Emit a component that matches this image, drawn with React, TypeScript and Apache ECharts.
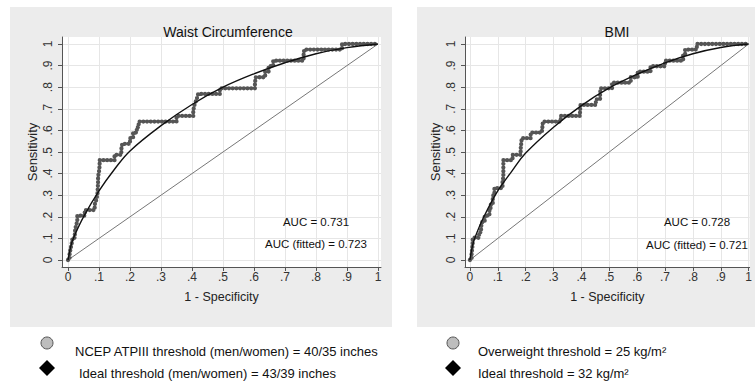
import React, { useEffect, useRef } from "react";
import * as echarts from "echarts";

// ---- Data ----
const tickValues = [0, 0.1, 0.2, 0.3, 0.4, 0.5, 0.6, 0.7, 0.8, 0.9, 1];
const tickLabels = ["0", ".1", ".2", ".3", ".4", ".5", ".6", ".7", ".8", ".9", "1"];

const panelTitles = ["Waist Circumference", "BMI"];
const aucTexts = [
  ["AUC = 0.731", "AUC (fitted) = 0.723"],
  ["AUC = 0.728", "AUC (fitted) = 0.721"],
];
const legendTexts = [
  ["NCEP ATPIII threshold (men/women) = 40/35 inches", "Ideal threshold (men/women) = 43/39 inches"],
  ["Overweight threshold = 25 kg/m²", "Ideal threshold = 32 kg/m²"],
];

// Empirical ROC (step path vertices), waist circumference
const waistEmpX = [0, 0.005, 0.005, 0.008, 0.012, 0.015, 0.022, 0.022, 0.025, 0.03, 0.03, 0.054, 0.054, 0.086, 0.086, 0.092, 0.095, 0.097, 0.097, 0.1, 0.102, 0.102, 0.15, 0.15, 0.172, 0.172, 0.175, 0.2, 0.2, 0.21, 0.21, 0.222, 0.222, 0.228, 0.228, 0.35, 0.35, 0.404, 0.404, 0.408, 0.415, 0.42, 0.49, 0.49, 0.603, 0.603, 0.606, 0.636, 0.636, 0.647, 0.647, 0.662, 0.662, 0.76, 0.76, 0.762, 0.884, 0.884, 1];
const waistEmpY = [0, 0, 0.026, 0.051, 0.077, 0.103, 0.103, 0.128, 0.154, 0.179, 0.205, 0.205, 0.231, 0.231, 0.256, 0.282, 0.308, 0.359, 0.385, 0.41, 0.436, 0.462, 0.462, 0.487, 0.487, 0.513, 0.538, 0.538, 0.564, 0.564, 0.59, 0.59, 0.615, 0.615, 0.641, 0.641, 0.667, 0.667, 0.692, 0.718, 0.744, 0.769, 0.769, 0.795, 0.795, 0.821, 0.846, 0.846, 0.872, 0.872, 0.897, 0.897, 0.923, 0.923, 0.949, 0.974, 0.974, 1, 1];

// Fitted ROC, waist circumference
const waistFitX = [0, 0.01, 0.02, 0.05, 0.1, 0.15, 0.2, 0.3, 0.4, 0.5, 0.6, 0.7, 0.8, 0.9, 1];
const waistFitY = [0, 0.07, 0.11, 0.2, 0.32, 0.42, 0.505, 0.622, 0.72, 0.8, 0.862, 0.913, 0.955, 0.983, 1];

// Empirical ROC, BMI
const bmiEmpX = [0, 0.006, 0.006, 0.008, 0.01, 0.01, 0.033, 0.033, 0.04, 0.04, 0.045, 0.053, 0.053, 0.07, 0.07, 0.074, 0.074, 0.082, 0.082, 0.085, 0.088, 0.088, 0.117, 0.117, 0.12, 0.12, 0.153, 0.153, 0.182, 0.182, 0.184, 0.186, 0.218, 0.218, 0.258, 0.26, 0.262, 0.326, 0.326, 0.395, 0.395, 0.397, 0.452, 0.452, 0.467, 0.467, 0.469, 0.51, 0.51, 0.577, 0.577, 0.602, 0.602, 0.648, 0.648, 0.7, 0.7, 0.765, 0.765, 0.772, 0.772, 0.814, 0.814, 1];
const bmiEmpY = [0, 0, 0.026, 0.051, 0.077, 0.103, 0.103, 0.128, 0.128, 0.154, 0.179, 0.179, 0.205, 0.205, 0.231, 0.231, 0.256, 0.256, 0.282, 0.308, 0.308, 0.333, 0.333, 0.359, 0.385, 0.462, 0.462, 0.487, 0.487, 0.513, 0.538, 0.564, 0.564, 0.59, 0.59, 0.615, 0.641, 0.641, 0.667, 0.667, 0.692, 0.718, 0.718, 0.744, 0.744, 0.769, 0.795, 0.795, 0.821, 0.821, 0.846, 0.846, 0.872, 0.872, 0.897, 0.897, 0.923, 0.923, 0.949, 0.949, 0.974, 0.974, 1, 1];

// Fitted ROC, BMI
const bmiFitX = [0, 0.01, 0.02, 0.05, 0.1, 0.15, 0.2, 0.3, 0.4, 0.5, 0.6, 0.7, 0.8, 0.9, 1];
const bmiFitY = [0, 0.07, 0.11, 0.2, 0.32, 0.41, 0.495, 0.615, 0.715, 0.797, 0.86, 0.913, 0.955, 0.984, 1];

// Chance diagonal
const diagX = [0, 1];
const diagY = [0, 1];

const FONT = "'Liberation Sans', Arial, sans-serif";
const zip = (xs: number[], ys: number[]) => xs.map((x, i) => [x, ys[i]]);
const fmt = (v: number) => {
  const i = tickValues.findIndex((t) => Math.abs(t - v) < 1e-9);
  return i >= 0 ? tickLabels[i] : "";
};

export default function App() {
  const ref = useRef<HTMLDivElement>(null);
  useEffect(() => {
    if (!ref.current) return;
    const chart = echarts.init(ref.current, null, { renderer: "svg" });

    const grids = [
      { left: 62, top: 37, width: 319, height: 230 },
      { left: 465, top: 37, width: 290, height: 230 },
    ];
    const xRanges = [
      [-0.0194, 1.0097],
      [-0.0176, 1.0035],
    ];
    const yRange = [-0.0324, 1.0324];

    const mkX = (i: number) => ({
      type: "value",
      gridIndex: i,
      min: xRanges[i][0],
      max: xRanges[i][1],
      name: "1 - Specificity",
      nameLocation: "middle",
      nameGap: 23,
      nameTextStyle: { fontFamily: FONT, fontSize: 12.5, color: "#222" },
      axisLine: { show: true, onZero: false, lineStyle: { color: "#555", width: 1 } },
      axisTick: { show: true, length: 4, customValues: tickValues, lineStyle: { color: "#555" } },
      axisLabel: {
        customValues: tickValues,
        formatter: fmt,
        margin: 4,
        fontFamily: FONT,
        fontSize: 12,
        color: "#333",
      },
      splitLine: { show: true, customValues: tickValues, lineStyle: { color: "#e6e6e6", width: 1 } },
    });
    const mkY = (i: number) => ({
      type: "value",
      gridIndex: i,
      min: yRange[0],
      max: yRange[1],
      name: "Sensitivity",
      nameLocation: "middle",
      nameGap: 23,
      nameTextStyle: { fontFamily: FONT, fontSize: 13, color: "#222" },
      axisLine: { show: true, onZero: false, lineStyle: { color: "#555", width: 1 } },
      axisTick: { show: true, length: 4, customValues: tickValues, lineStyle: { color: "#555" } },
      axisLabel: {
        customValues: tickValues,
        formatter: fmt,
        rotate: 90,
        margin: 8,
        fontFamily: FONT,
        fontSize: 12,
        color: "#333",
      },
      splitLine: { show: true, customValues: tickValues, lineStyle: { color: "#e6e6e6", width: 1 } },
    });

    const empStyle = {
      color: "#555555",
      width: 4.3,
      type: [0, 3.7],
      cap: "round",
    };

    const mkSeries = (i: number, ex: number[], ey: number[], fx: number[], fy: number[]) => [
      {
        type: "line",
        xAxisIndex: i,
        yAxisIndex: i,
        data: zip(diagX, diagY),
        showSymbol: false,
        lineStyle: { color: "#777", width: 1 },
        silent: true,
        z: 2,
      },
      {
        type: "line",
        xAxisIndex: i,
        yAxisIndex: i,
        data: zip(ex, ey),
        showSymbol: false,
        lineStyle: empStyle,
        silent: true,
        z: 3,
      },
      {
        type: "line",
        xAxisIndex: i,
        yAxisIndex: i,
        data: zip(fx, fy),
        smooth: 0.4,
        showSymbol: false,
        lineStyle: { color: "#111", width: 1.4 },
        silent: true,
        z: 4,
      },
    ];

    const legendCols = [
      { sx: 47, tx: 75, tx2: 79 },
      { sx: 453, tx: 478, tx2: 478 },
    ];
    const legendGraphics: any[] = [];
    legendCols.forEach((c, i) => {
      legendGraphics.push({
        type: "circle",
        shape: { cx: c.sx, cy: 343, r: 6 },
        style: { fill: "#bdbdbd", stroke: "#555", lineWidth: 1 },
      });
      legendGraphics.push({
        type: "polygon",
        shape: { points: [[c.sx, 360], [c.sx + 8, 368], [c.sx, 376], [c.sx - 8, 368]] },
        style: { fill: "#000" },
      });
      legendGraphics.push({
        type: "text",
        x: c.tx,
        y: 351,
        style: { text: legendTexts[i][0], fontFamily: FONT, fontSize: 13, fill: "#111", verticalAlign: "middle" },
      });
      legendGraphics.push({
        type: "text",
        x: c.tx2,
        y: 373,
        style: { text: legendTexts[i][1], fontFamily: FONT, fontSize: 13, fill: "#111", verticalAlign: "middle" },
      });
    });

    const aucPos = [
      { x: 316, y1: 222, y2: 244 },
      { x: 697, y1: 222, y2: 245 },
    ];
    const aucGraphics: any[] = [];
    aucPos.forEach((p, i) => {
      aucGraphics.push({
        type: "text",
        x: p.x,
        y: p.y1,
        z: 10,
        style: { text: aucTexts[i][0], fontFamily: FONT, fontSize: 11.5, fill: "#111", align: "center", verticalAlign: "middle" },
      });
      aucGraphics.push({
        type: "text",
        x: p.x,
        y: p.y2,
        z: 10,
        style: { text: aucTexts[i][1], fontFamily: FONT, fontSize: 11.5, fill: "#111", align: "center", verticalAlign: "middle" },
      });
    });

    chart.setOption({
      animation: false,
      backgroundColor: "#ffffff",
      title: [
        {
          text: panelTitles[0],
          left: 223,
          top: 20,
          textAlign: "center",
          textStyle: { fontFamily: FONT, fontSize: 14, fontWeight: "normal", color: "#111" },
        },
        {
          text: panelTitles[1],
          left: 612,
          top: 20,
          textAlign: "center",
          textStyle: { fontFamily: FONT, fontSize: 14, fontWeight: "normal", color: "#111" },
        },
      ],
      grid: grids.map((g) => ({ ...g, show: true, backgroundColor: "#ffffff", borderWidth: 0, containLabel: false })),
      xAxis: [mkX(0), mkX(1)],
      yAxis: [mkY(0), mkY(1)],
      series: [
        ...mkSeries(0, waistEmpX, waistEmpY, waistFitX, waistFitY),
        ...mkSeries(1, bmiEmpX, bmiEmpY, bmiFitX, bmiFitY),
      ],
      graphic: [
        { type: "rect", z: -10, shape: { x: 10, y: 7, width: 382, height: 320 }, style: { fill: "#ececec" } },
        { type: "rect", z: -10, shape: { x: 417, y: 7, width: 338, height: 320 }, style: { fill: "#ececec" } },
        ...aucGraphics,
        ...legendGraphics,
      ],
    });
    return () => chart.dispose();
  }, []);
  return <div ref={ref} style={{ position: "absolute", left: 0, top: 0, width: 755, height: 385 }} />;
}
